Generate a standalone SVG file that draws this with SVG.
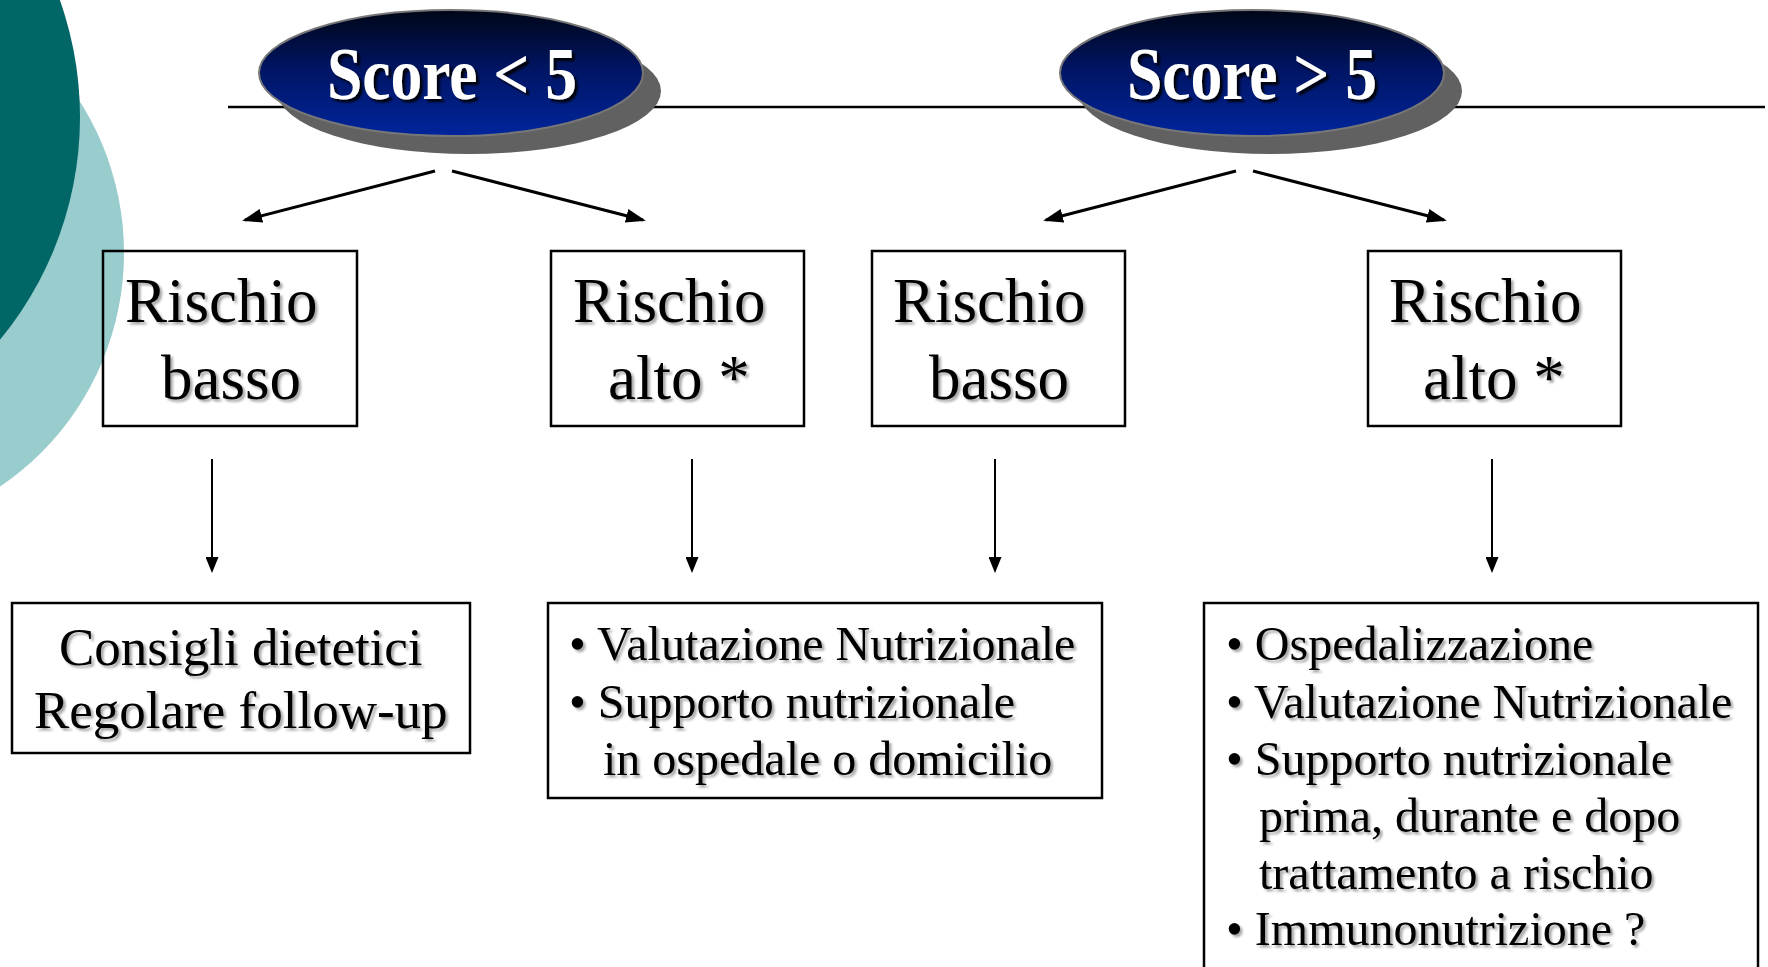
<svg xmlns="http://www.w3.org/2000/svg" width="1768" height="967" viewBox="0 0 1768 967">
  <defs>
    <linearGradient id="blueGrad" x1="0" y1="0" x2="0" y2="1">
      <stop offset="0" stop-color="#000617"/>
      <stop offset="0.45" stop-color="#001461"/>
      <stop offset="1" stop-color="#00259c"/>
    </linearGradient>
    <filter id="ts" x="-5%" y="-20%" width="110%" height="140%">
      <feDropShadow dx="2.5" dy="2.5" stdDeviation="1.3" flood-color="#000" flood-opacity="0.35"/>
    </filter>
    <filter id="ws" x="-5%" y="-20%" width="110%" height="140%">
      <feDropShadow dx="3" dy="3" stdDeviation="1" flood-color="#000" flood-opacity="0.9"/>
    </filter>
    <marker id="ahd" viewBox="0 0 20 14" markerWidth="20" markerHeight="14" refX="17" refY="7" orient="auto" markerUnits="userSpaceOnUse">
      <path d="M0,0 L20,7 L0,14 z" fill="#000"/>
    </marker>
    <marker id="ahv" viewBox="0 0 16 13" markerWidth="16" markerHeight="13" refX="14" refY="6.5" orient="auto" markerUnits="userSpaceOnUse">
      <path d="M0,0 L16,6.5 L0,13 z" fill="#000"/>
    </marker>
  </defs>
  <style>
    .box { fill: none; stroke: #000; stroke-width: 2.5; }
    .t1 { font-family: "Liberation Serif", "Times New Roman", serif; font-size: 63px; fill: #000; }
    .t2 { font-family: "Liberation Serif", "Times New Roman", serif; font-size: 53px; fill: #000; }
    .t3 { font-family: "Liberation Serif", "Times New Roman", serif; font-size: 48px; fill: #000; }
    .score { font-family: "Liberation Serif", "Times New Roman", serif; font-size: 74px; font-weight: bold; fill: #fff; }
    .ell { fill: url(#blueGrad); stroke: #777; stroke-width: 2; }
    .shadow { fill: #616161; }
    .diag { stroke: #000; stroke-width: 3; fill: none; marker-end: url(#ahd); }
    .vert { stroke: #000; stroke-width: 2; fill: none; marker-end: url(#ahv); }
  </style>

  <rect x="0" y="0" width="1768" height="967" fill="#fff"/>

  <g id="decor">
    <circle cx="-158" cy="253" r="282" fill="#99cccc"/>
    <circle cx="-270" cy="117" r="350" fill="#006666"/>
  </g>

  <g id="connectors">
    <line x1="228" y1="107" x2="1765" y2="107" stroke="#000" stroke-width="2.5"/>
    <line class="diag" x1="435" y1="171" x2="245" y2="220"/>
    <line class="diag" x1="452" y1="171" x2="643" y2="220"/>
    <line class="diag" x1="1236" y1="171" x2="1046" y2="220"/>
    <line class="diag" x1="1253" y1="171" x2="1444" y2="220"/>
    <line class="vert" x1="212" y1="459" x2="212" y2="571"/>
    <line class="vert" x1="692" y1="459" x2="692" y2="571"/>
    <line class="vert" x1="995" y1="459" x2="995" y2="571"/>
    <line class="vert" x1="1492" y1="459" x2="1492" y2="571"/>
  </g>

  <g id="score-low">
    <ellipse class="shadow" cx="469" cy="91" rx="192" ry="63"/>
    <ellipse class="ell" cx="451" cy="73" rx="192" ry="63"/>
    <text class="score" x="327" y="99" textLength="250" lengthAdjust="spacingAndGlyphs" filter="url(#ws)">Score &lt; 5</text>
  </g>

  <g id="score-high">
    <ellipse class="shadow" cx="1270" cy="91" rx="192" ry="63"/>
    <ellipse class="ell" cx="1252" cy="73" rx="192" ry="63"/>
    <text class="score" x="1127" y="99" textLength="250" lengthAdjust="spacingAndGlyphs" filter="url(#ws)">Score &gt; 5</text>
  </g>

  <g id="low-risk-1">
    <rect class="box" x="103" y="251" width="254" height="175"/>
    <text class="t1" filter="url(#ts)"><tspan x="125" y="322">Rischio</tspan><tspan x="161" y="399">basso</tspan></text>
  </g>

  <g id="high-risk-1">
    <rect class="box" x="551" y="251" width="253" height="175"/>
    <text class="t1" filter="url(#ts)"><tspan x="573" y="322">Rischio</tspan><tspan x="608" y="399">alto *</tspan></text>
  </g>

  <g id="low-risk-2">
    <rect class="box" x="872" y="251" width="253" height="175"/>
    <text class="t1" filter="url(#ts)"><tspan x="893" y="322">Rischio</tspan><tspan x="929" y="399">basso</tspan></text>
  </g>

  <g id="high-risk-2">
    <rect class="box" x="1368" y="251" width="253" height="175"/>
    <text class="t1" filter="url(#ts)"><tspan x="1389" y="322">Rischio</tspan><tspan x="1423" y="399">alto *</tspan></text>
  </g>

  <g id="advice">
    <rect class="box" x="12" y="603" width="458" height="150"/>
    <text class="t2" filter="url(#ts)"><tspan x="59" y="665">Consigli dietetici</tspan><tspan x="34" y="728">Regolare follow-up</tspan></text>
  </g>

  <g id="evaluation">
    <rect class="box" x="548" y="603" width="554" height="195"/>
    <text class="t3" filter="url(#ts)"><tspan x="569" y="660">• Valutazione Nutrizionale</tspan><tspan x="569" y="718">• Supporto nutrizionale</tspan><tspan x="603" y="775">in ospedale o domicilio</tspan></text>
  </g>

  <g id="hospital">
    <rect class="box" x="1204" y="603" width="554" height="400"/>
    <text class="t3" filter="url(#ts)"><tspan x="1226" y="660">• Ospedalizzazione</tspan><tspan x="1226" y="718">• Valutazione Nutrizionale</tspan><tspan x="1226" y="775">• Supporto nutrizionale</tspan><tspan x="1259" y="832">prima, durante e dopo</tspan><tspan x="1259" y="889">trattamento a rischio</tspan><tspan x="1226" y="945">• Immunonutrizione ?</tspan></text>
  </g>
</svg>
